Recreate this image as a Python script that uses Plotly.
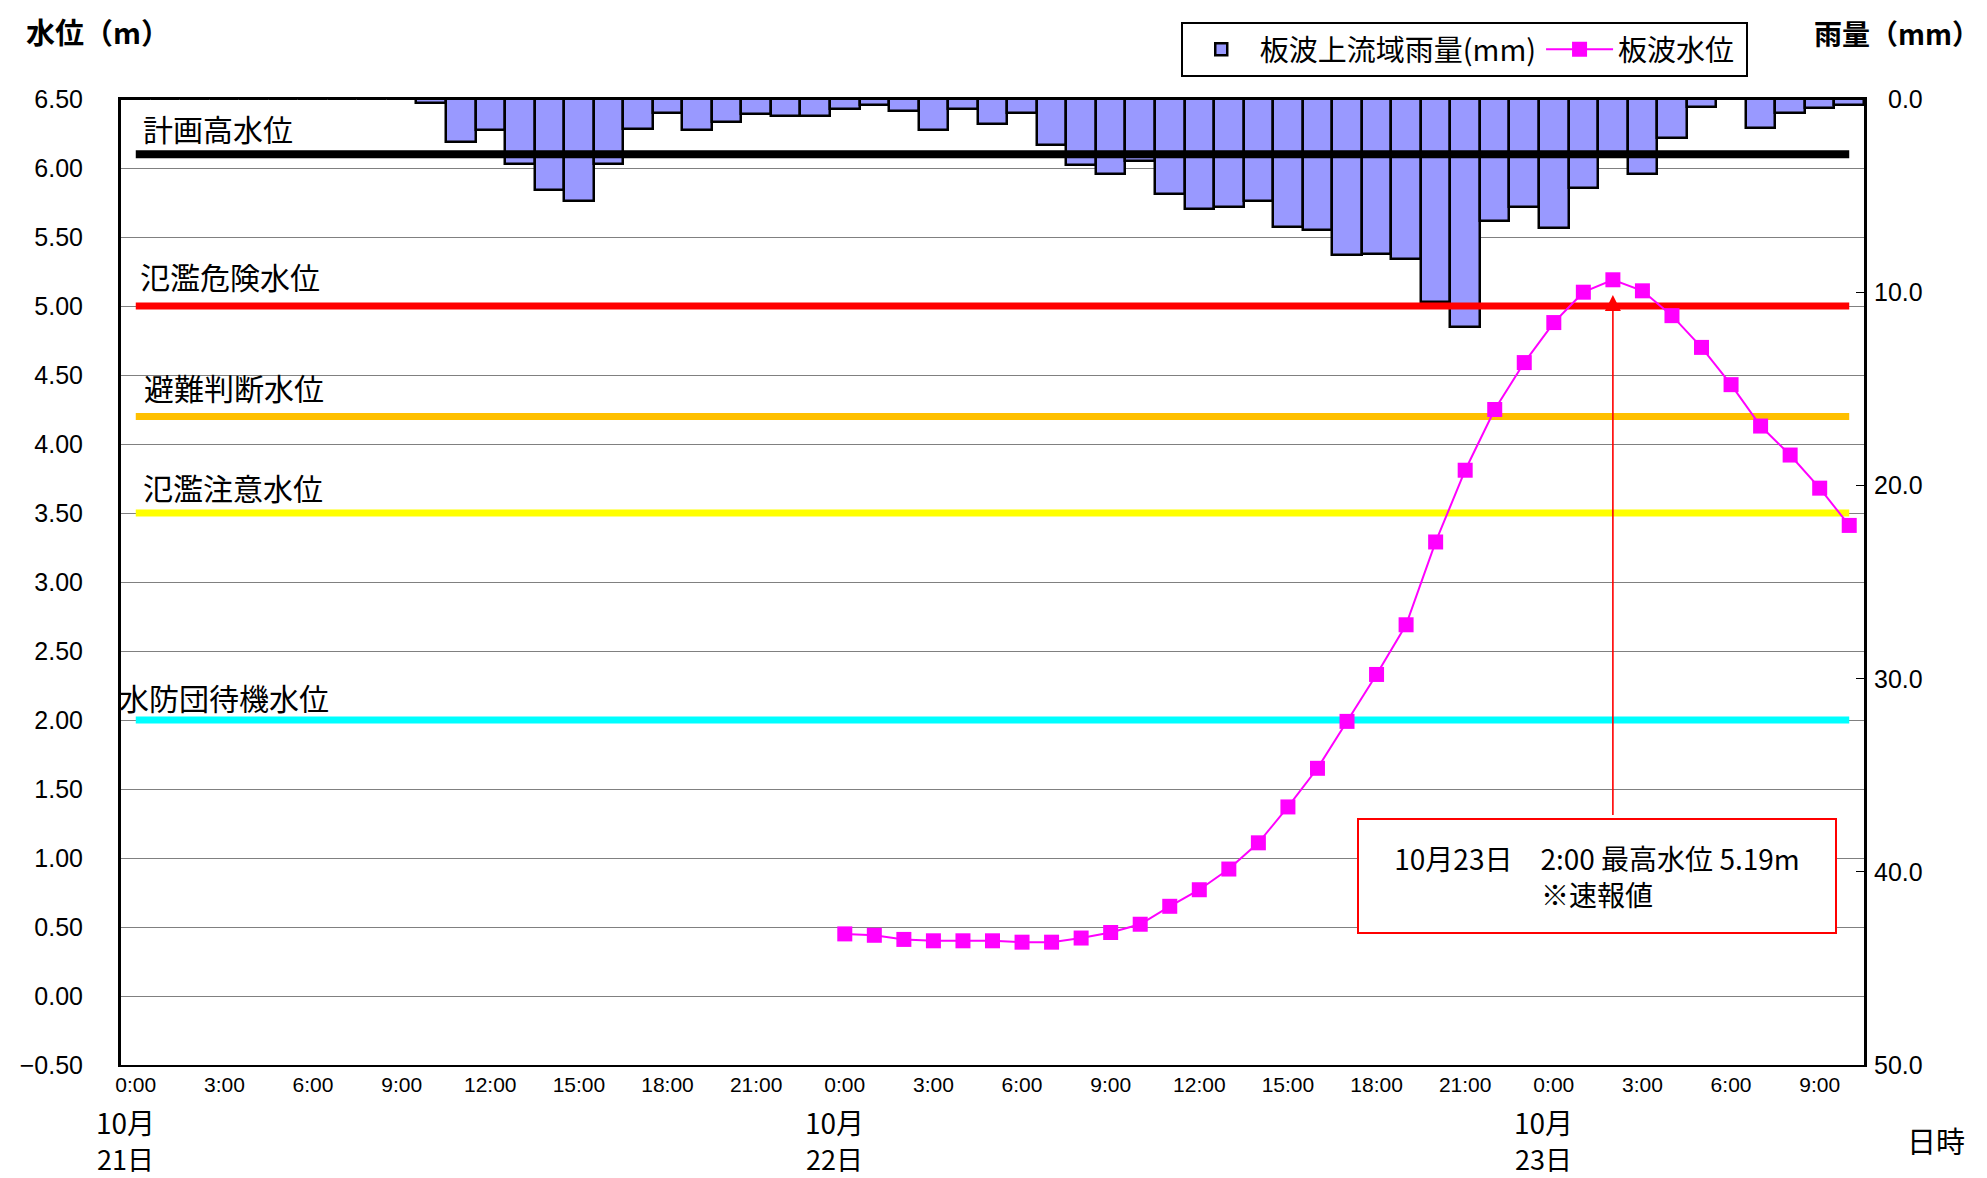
import plotly.graph_objects as go

# ---------------- data ----------------
# hourly categories: 10/21 0:00 ... 10/23 10:00 (59 hours)
hour_of_day = [h % 24 for h in range(59)]
time_labels = [f"{h}:00" for h in hour_of_day]

# basin rainfall (mm/h), 板波上流域雨量
rain_mm = [0, 0, 0, 0, 0, 0, 0, 0, 0, 0,
           0.2, 2.2, 1.6, 3.35, 4.7, 5.3, 3.35, 1.55, 0.7, 1.6,
           1.2, 0.8, 0.9, 0.9, 0.5, 0.3, 0.6, 1.6, 0.5, 1.3,
           0.7, 2.4, 3.4, 3.9, 3.2, 4.9, 5.7, 5.6, 5.3, 6.6,
           6.8, 8.1, 8.0, 8.3, 10.5, 11.8, 6.3, 5.6, 6.7, 4.6,
           2.9, 3.9, 2.0, 0.4, 0.0, 1.5, 0.75, 0.45, 0.3]

# water level (m), 板波水位 (from 10/22 0:00)
level_m = [None] * 24 + [
    0.45, 0.44, 0.41, 0.40, 0.40, 0.40, 0.39, 0.39, 0.42, 0.46,
    0.52, 0.65, 0.77, 0.92, 1.11, 1.37, 1.65, 1.99, 2.33, 2.69,
    3.29, 3.81, 4.25, 4.59, 4.88, 5.10, 5.19, 5.11, 4.93, 4.70,
    4.43, 4.13, 3.92, 3.68, 3.41]

threshold_names = ["計画高水位", "氾濫危険水位", "避難判断水位", "氾濫注意水位", "水防団待機水位"]
threshold_values = [6.10, 5.00, 4.20, 3.50, 2.00]
threshold_colors = ["#000000", "#FF0000", "#FFC000", "#FFFF00", "#00FFFF"]

rain_ticks = [0, 10, 20, 30, 40, 50]

date_month = ["10月", "10月", "10月"]
date_day = ["21日", "22日", "23日"]
date_index = [0, 24, 48]

peak_index = 50
peak_text = "10月23日　2:00 最高水位 5.19m<br>※速報値"

# ---------------- figure ----------------
x = list(range(len(time_labels)))
JP = "Noto Sans CJK JP"
NUM = "Liberation Sans"

# plot area in window pixels (reference)
PL, PR, PT, PB = 114, 1864, 99, 1065


def px_x(p):
    return (p - PL) / (PR - PL)


def px_y(p):
    return (PB - p) / (PB - PT)


fig = go.Figure()

fig.add_trace(go.Bar(
    x=x, y=rain_mm, yaxis="y", name="板波上流域雨量(mm)",
    width=1, marker=dict(color="#9999FF", line=dict(color="#000000", width=2.5)),
    hoverinfo="skip"))

for name, val, col in zip(threshold_names, threshold_values, threshold_colors):
    fig.add_trace(go.Scatter(
        x=[x[0], x[-1]], y=[val, val], yaxis="y2", mode="lines",
        line=dict(color=col, width=8 if col == "#000000" else 7),
        showlegend=False, hoverinfo="skip"))

fig.add_trace(go.Scatter(
    x=x, y=level_m, yaxis="y2", name="板波水位\u00a0", mode="lines+markers",
    line=dict(color="#FF00FF", width=2),
    marker=dict(symbol="square", size=15, color="#FF00FF"),
    connectgaps=False))

annotations = []
label_px = [134, 131, 135, 134, 110]
label_y = [6.29, 5.22, 4.41, 3.69, 2.17]
for name, lp, ly in zip(threshold_names, label_px, label_y):
    annotations.append(dict(x=px_x(lp), y=ly, xref="paper", yref="y2", text=name, showarrow=False,
                            xanchor="left", yanchor="middle",
                            font=dict(family=JP, size=30, color="#000000")))

for m, d, i in zip(date_month, date_day, date_index):
    annotations.append(dict(x=i - 0.36, y=-0.0595, xref="x", yref="paper", text=m, showarrow=False,
                            xanchor="center", yanchor="middle",
                            font=dict(family=JP, size=28, color="#000000")))
    annotations.append(dict(x=i - 0.36, y=-0.0965, xref="x", yref="paper", text=d, showarrow=False,
                            xanchor="center", yanchor="middle",
                            font=dict(family=JP, size=27, color="#000000")))

# right axis tick labels (right-aligned like the original)
for v in rain_ticks:
    annotations.append(dict(x=px_x(1925), y=v, xref="paper", yref="y",
                            text=f"{v:.1f}", showarrow=False, xanchor="right", yanchor="middle",
                            font=dict(family=NUM, size=25, color="#000000")))

# arrow to peak
annotations.append(dict(x=peak_index, y=5.08, xref="x", yref="y2",
                        ax=peak_index, ay=1.30, axref="x", ayref="y2",
                        text="", showarrow=True, arrowhead=2, arrowsize=2.0,
                        arrowwidth=1.6, arrowcolor="#FF0000"))
# peak box
annotations.append(dict(x=49.46, y=0.873, xref="x", yref="y2", text=peak_text, showarrow=False,
                        xanchor="center", yanchor="middle", width=472, height=108,
                        bordercolor="#FF0000", borderwidth=2, borderpad=2, bgcolor="#FFFFFF",
                        font=dict(family=JP, size=28, color="#000000")))

# axis titles
annotations.append(dict(x=px_x(17), y=px_y(8), xref="paper", yref="paper",
                        text="<b>水位（m）</b>", showarrow=False, xanchor="left", yanchor="top",
                        font=dict(family=JP, size=29, color="#000000")))
annotations.append(dict(x=px_x(1812), y=px_y(33), xref="paper", yref="paper",
                        text="<b>雨量（mm）</b>", showarrow=False, xanchor="left", yanchor="middle",
                        font=dict(family=JP, size=28, color="#000000")))
annotations.append(dict(x=px_x(1905), y=px_y(1140), xref="paper", yref="paper",
                        text="日時", showarrow=False, xanchor="left", yanchor="middle",
                        font=dict(family=JP, size=29, color="#000000")))

# the page body has an 8px default margin: shrink the figure so the plot area
# lands at the same window pixels as the reference
PAGE_OFF = 8
fig.update_layout(
    width=1987 - PAGE_OFF, height=1178 - PAGE_OFF,
    margin=dict(l=PL - PAGE_OFF, r=1987 - PR, t=PT - PAGE_OFF, b=1178 - PB),
    paper_bgcolor="#FFFFFF", plot_bgcolor="#FFFFFF",
    bargap=0,
    showlegend=True,
    legend=dict(orientation="h", x=px_x(1178), y=px_y(22),
                xanchor="left", yanchor="top", bgcolor="#FFFFFF",
                bordercolor="#000000", borderwidth=2,
                font=dict(family=JP, size=29, color="#000000"),
                itemwidth=67, tracegroupgap=0),
    xaxis=dict(range=[-0.5, 58.5], tickmode="array", tickvals=x[::3],
               ticktext=time_labels[::3], showgrid=False, zeroline=False,
               showline=True, linecolor="#000000", linewidth=2, mirror=True,
               ticks="", ticklabelstandoff=0,
               tickfont=dict(family=NUM, size=21, color="#000000")),
    yaxis=dict(range=[50, 0], side="right", tickmode="array",
               tickvals=rain_ticks, showticklabels=False,
               showgrid=False, zeroline=False, showline=True, linecolor="#000000",
               linewidth=3, ticks="inside", ticklen=8, tickcolor="#000000"),
    yaxis2=dict(range=[-0.5, 6.5], overlaying="y", side="left", tickmode="linear",
                tick0=0, dtick=0.5, tickformat=".2f", showgrid=True,
                gridcolor="#808080", gridwidth=1, zeroline=False, showline=True,
                linecolor="#000000", linewidth=3, ticks="",
                ticklabelstandoff=30,
                tickfont=dict(family=NUM, size=25, color="#000000")),
    annotations=annotations,
)

fig.write_html("out.html")
